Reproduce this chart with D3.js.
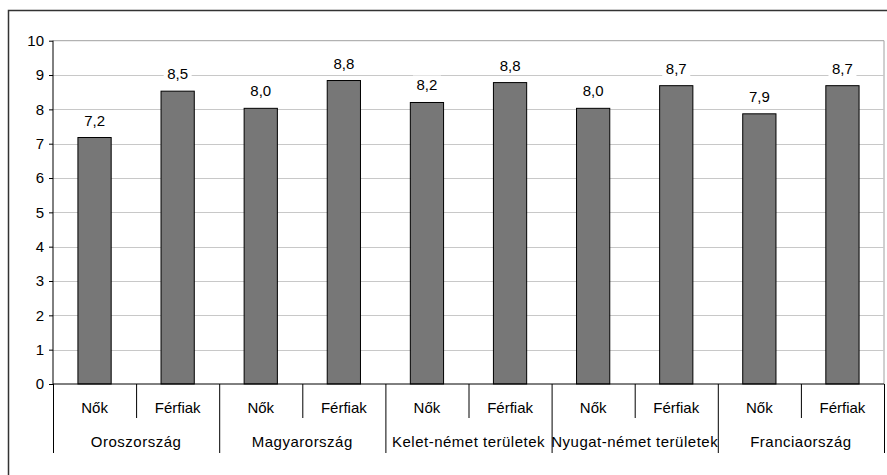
<!DOCTYPE html>
<html>
<head>
<meta charset="utf-8">
<script src="https://cdn.jsdelivr.net/npm/d3@7"></script>
<style>
  body { margin: 0; background: #fff; }
  svg text { font-family: "Liberation Sans", Arial, sans-serif; font-size: 15px; fill: #000; }
</style>
</head>
<body>
<svg id="chart" width="887" height="475"></svg>
<script>
const countries = ["Oroszország", "Magyarország", "Kelet-német területek", "Nyugat-német területek", "Franciaország"];
const genders = ["Nők", "Férfiak"];
const values = [7.18, 8.53, 8.03, 8.84, 8.2, 8.78, 8.03, 8.69, 7.87, 8.69];
const yTicks = [0, 1, 2, 3, 4, 5, 6, 7, 8, 9, 10];

const plotLeft = 53, plotRight = 884, plotTop = 40.7, plotBottom = 384;

const svg = d3.select("#chart");

// outer frame
svg.append("rect")
  .attr("x", 8.5).attr("y", 10.5)
  .attr("width", 900).attr("height", 500)
  .attr("fill", "none").attr("stroke", "#333").attr("stroke-width", 1.5);

const cells = [];
countries.forEach((c, ci) => genders.forEach((g, gi) => cells.push({ country: c, gender: g, v: values[ci * 2 + gi], i: ci * 2 + gi })));

const xCell = d3.scaleBand().domain(d3.range(cells.length)).range([plotLeft, plotRight]);
const xGroup = d3.scaleBand().domain(countries).range([plotLeft, plotRight]);
const y = d3.scaleLinear().domain([0, 10]).range([plotBottom, plotTop]);

// plot area border (top/right grey)
svg.append("path")
  .attr("d", `M${plotLeft},${plotTop}H${plotRight}V${plotBottom}`)
  .attr("fill", "none").attr("stroke", "#a0a0a0").attr("stroke-width", 1);

// gridlines
svg.append("g")
  .selectAll("line")
  .data(yTicks.filter(t => t > 0 && t < 10))
  .enter()
  .append("line")
  .attr("x1", plotLeft).attr("x2", plotRight)
  .attr("y1", d => Math.round(y(d)) + 0.5).attr("y2", d => Math.round(y(d)) + 0.5)
  .attr("stroke", "#c8c8c8");

// bars
const barW = xCell.bandwidth() * 0.4;
svg.append("g")
  .selectAll("rect")
  .data(cells)
  .enter()
  .append("rect")
  .attr("x", d => xCell(d.i) + (xCell.bandwidth() - barW) / 2)
  .attr("y", d => y(d.v))
  .attr("width", barW)
  .attr("height", d => y(0) - y(d.v))
  .attr("fill", "#777777")
  .attr("stroke", "#000")
  .attr("stroke-width", 1);

// value labels with white background
const fmt = v => d3.format(".1f")(v).replace(".", ",");
const lab = svg.append("g")
  .selectAll("g")
  .data(cells)
  .enter()
  .append("g")
  .attr("transform", d => `translate(${xCell(d.i) + xCell.bandwidth() / 2},${y(d.v) - 12})`);
lab.append("rect")
  .attr("x", -14).attr("y", -15).attr("width", 28).attr("height", 19)
  .attr("fill", "#fff");
lab.append("text")
  .attr("text-anchor", "middle")
  .text(d => fmt(d.v));

// y axis
const yAxis = svg.append("g")
  .attr("transform", `translate(${plotLeft},0)`)
  .call(d3.axisLeft(y).tickValues(yTicks).tickSize(4).tickPadding(5).tickFormat(d3.format("d")));
yAxis.selectAll("line, path").attr("stroke", "#000");
yAxis.select(".domain").attr("d", `M0,${plotTop}V${plotBottom}`);
yAxis.selectAll("text").attr("font-size", 15).attr("font-family", "Liberation Sans, Arial, sans-serif");

// x axis base line
svg.append("line")
  .attr("x1", plotLeft).attr("x2", plotRight)
  .attr("y1", plotBottom).attr("y2", plotBottom)
  .attr("stroke", "#000");

// separators between gender cells (short) and groups (long)
svg.append("g")
  .selectAll("line")
  .data(d3.range(cells.length + 1))
  .enter()
  .append("line")
  .attr("x1", i => (i < cells.length ? xCell(i) : plotRight) + 0.5)
  .attr("x2", i => (i < cells.length ? xCell(i) : plotRight) + 0.5)
  .attr("y1", plotBottom)
  .attr("y2", i => (i % 2 === 0 ? 453 : 418))
  .attr("stroke", "#000");

// gender labels
svg.append("g")
  .selectAll("text")
  .data(cells)
  .enter()
  .append("text")
  .attr("x", d => xCell(d.i) + xCell.bandwidth() / 2)
  .attr("y", 412.5)
  .attr("text-anchor", "middle")
  .text(d => d.gender);

// country labels
svg.append("g")
  .selectAll("text")
  .data(countries)
  .enter()
  .append("text")
  .attr("x", d => xGroup(d) + xGroup.bandwidth() / 2)
  .attr("y", 447)
  .attr("text-anchor", "middle")
  .attr("letter-spacing", "0.5px")
  .text(d => d);
</script>
</body>
</html>
